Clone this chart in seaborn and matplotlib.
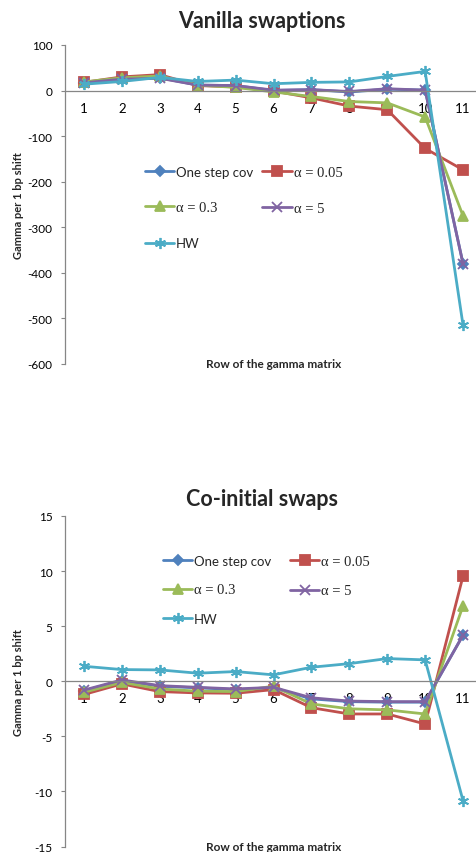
import matplotlib
matplotlib.use("Agg")
import matplotlib.pyplot as plt
import seaborn as sns
import pandas as pd

sns.set_theme(style="white")
plt.rcParams["font.family"] = ["Lato", "DejaVu Sans"]

rows = list(range(1, 12))
series_names = ["One step cov", "α = 0.05", "α = 0.3", "α = 5", "HW"]

vanilla_one_step = [17, 25, 28, 12, 11, 0, 2, -3, 3, 1, -380]
vanilla_a005 = [18, 30, 35, 11, 8, -1, -16, -34, -42, -127, -174]
vanilla_a03 = [19, 28, 32, 12, 7, -3, -13, -24, -27, -58, -275]
vanilla_a5 = [17, 25, 27, 12, 11, 1, 2, -2, 4, 1, -380]
vanilla_hw = [14, 20, 29, 20, 23, 15, 18, 19, 31, 42, -515]

coinit_one_step = [-0.85, 0.05, -0.45, -0.6, -0.75, -0.6, -1.6, -1.85, -1.9, -1.9, 4.2]
coinit_a005 = [-1.2, -0.24, -0.94, -1.06, -1.09, -0.76, -2.4, -2.97, -2.97, -3.88, 9.55]
coinit_a03 = [-1.0, -0.1, -0.7, -0.9, -0.94, -0.45, -2.06, -2.5, -2.6, -2.97, 6.85]
coinit_a5 = [-0.8, 0.12, -0.4, -0.55, -0.7, -0.55, -1.5, -1.8, -1.85, -1.85, 4.18]
coinit_hw = [1.36, 1.06, 1.03, 0.73, 0.88, 0.58, 1.27, 1.6, 2.06, 1.94, -10.85]

vanilla_yticks = [100, 0, -100, -200, -300, -400, -500, -600]
coinit_yticks = [15, 10, 5, 0, -5, -10, -15]

colors = ["#4F81BD", "#C0504D", "#9BBB59", "#8064A2", "#4BACC6"]
markers = ["D", "s", "^", "x", (6, 2, 0)]
msizes = [5.5, 6.5, 7, 7, 8]

GRAY = "#868686"

W, H = 477, 853
fig = plt.figure(figsize=(W / 100, H / 100), dpi=100)


def px_axes(left, top, right, bottom):
    return fig.add_axes([left / W, 1 - bottom / H, (right - left) / W, (bottom - top) / H])


def draw_panel(ax, series, yticks, title, title_y, leg_anchor, colspace, labspace):
    handles = {}
    for name, vals, c, m, ms in zip(series_names, series, colors, markers, msizes):
        df = pd.DataFrame({"row": rows, "gamma": vals})
        sns.lineplot(data=df, x="row", y="gamma", ax=ax, color=c, marker=m,
                     markersize=ms, markeredgecolor=c, markerfacecolor=c,
                     markeredgewidth=1.3, linewidth=2.0, label=name, legend=False)
        handles[name] = ax.get_lines()[-1]

    ax.set_xlim(0.5, 11.5)
    ax.set_ylim(min(yticks), max(yticks))
    ax.set_yticks(yticks)
    ax.set_yticklabels([str(t) for t in yticks])
    ax.set_xticks(rows)
    ax.set_xticklabels([str(r) for r in rows])
    ax.set_xticks([r + 0.5 for r in range(0, 12)], minor=True)
    ax.tick_params(axis="x", which="major", length=0, pad=8, labelsize=9.5, colors="black")
    ax.tick_params(axis="x", which="minor", length=3.5, width=0.8, color=GRAY, direction="out")
    ax.tick_params(axis="y", which="major", length=3, width=0.8, color=GRAY, pad=6,
                   labelsize=8.5, left=True, labelcolor="black")
    for side in ["top", "right"]:
        ax.spines[side].set_visible(False)
    ax.spines["bottom"].set_position(("data", 0))
    ax.spines["bottom"].set_color(GRAY)
    ax.spines["left"].set_color(GRAY)
    ax.spines["bottom"].set_linewidth(0.9)
    ax.spines["left"].set_linewidth(0.9)
    ax.set_xlabel("")
    ax.set_ylabel("Gamma per 1 bp shift", fontsize=8, fontweight="bold")
    ax.yaxis.set_label_coords((24 - 65) / (482 - 65), 0.5)
    ax.text(0.5, -0.0, "Row of the gamma matrix", transform=ax.transAxes,
            ha="center", va="center", fontsize=8.5, fontweight="bold")
    ax.patch.set_alpha(0)

    fig.text(262 / W, 1 - title_y / H, title, ha="center", va="center",
             fontsize=15.5, fontweight="bold")

    order = ["One step cov", "α = 0.3", "HW", "α = 0.05", "α = 5"]
    leg = ax.legend([handles[n] for n in order], order, ncol=2, frameon=False,
                    loc="upper left", bbox_to_anchor=(leg_anchor[0] / W, 1 - leg_anchor[1] / H),
                    bbox_transform=fig.transFigure, borderpad=0, borderaxespad=0,
                    handlelength=2.2, handletextpad=0.15, columnspacing=colspace,
                    labelspacing=labspace, fontsize=9.5)
    for t in leg.get_texts():
        if t.get_text().startswith("α"):
            t.set_family(["Liberation Serif", "DejaVu Serif"])
            t.set_fontsize(10.5)
    return ax


ax1 = px_axes(65, 46, 482, 365)
draw_panel(ax1, [vanilla_one_step, vanilla_a005, vanilla_a03, vanilla_a5, vanilla_hw],
           vanilla_yticks, "Vanilla swaptions", 22, (145, 167), 0.7, 1.75)

ax2 = px_axes(65, 517, 482, 847.5)
draw_panel(ax2, [coinit_one_step, coinit_a005, coinit_a03, coinit_a5, coinit_hw],
           coinit_yticks, "Co-initial swaps", 500, (163, 556), 1.45, 1.25)

fig.savefig("out.png", dpi=100)
